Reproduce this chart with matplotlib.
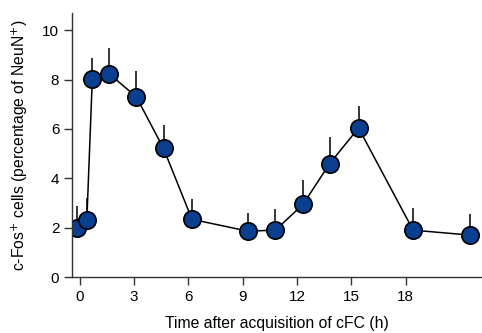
import matplotlib
matplotlib.use('Agg')
import matplotlib.pyplot as plt

plt.rcParams['font.family'] = ['Liberation Sans', 'DejaVu Sans']

tiempo = [-0.16, 0.4, 0.7, 1.64, 3.13, 4.63, 6.2, 9.28, 10.8, 12.32, 13.8, 15.39, 18.4, 21.55]
cfos = [2.0, 2.33, 8.02, 8.23, 7.3, 5.21, 2.34, 1.86, 1.9, 2.94, 4.6, 6.04, 1.9, 1.7]
err_sup = [0.89, 0.87, 0.86, 1.05, 1.04, 0.94, 0.82, 0.72, 0.84, 1.01, 1.06, 0.88, 0.9, 0.85]

fig = plt.figure(figsize=(4.82, 3.33), dpi=100)
ax = fig.add_axes([0.149, 0.168, 0.851, 0.793])

ax.errorbar(tiempo, cfos, yerr=[[0] * len(err_sup), err_sup], fmt='none',
            ecolor='black', elinewidth=1.1, capsize=0, zorder=1)
ax.plot(tiempo, cfos, color='black', linewidth=1.1, marker='o', markersize=12.5,
        markerfacecolor='#0a3f8f', markeredgecolor='black', markeredgewidth=1.2, zorder=2)

ax.set_xlim(-0.43, 22.2)
ax.set_ylim(0, 10.7)
ax.set_xticks([0, 3, 6, 9, 12, 15, 18])
ax.set_yticks([0, 2, 4, 6, 8, 10])

for s in ['top', 'right']:
    ax.spines[s].set_visible(False)
for s in ['left', 'bottom']:
    ax.spines[s].set_color('#333333')
    ax.spines[s].set_linewidth(1.0)
ax.tick_params(direction='out', length=6, width=1.0, color='#333333', labelsize=11, pad=3)

ax.set_xlabel('Time after acquisition of cFC (h)', fontsize=11.3, labelpad=9)
ax.set_ylabel('c-Fos$^{+}$ cells (percentage of NeuN$^{+}$)', fontsize=11.3, labelpad=9)

fig.savefig('out.png', dpi=100)
